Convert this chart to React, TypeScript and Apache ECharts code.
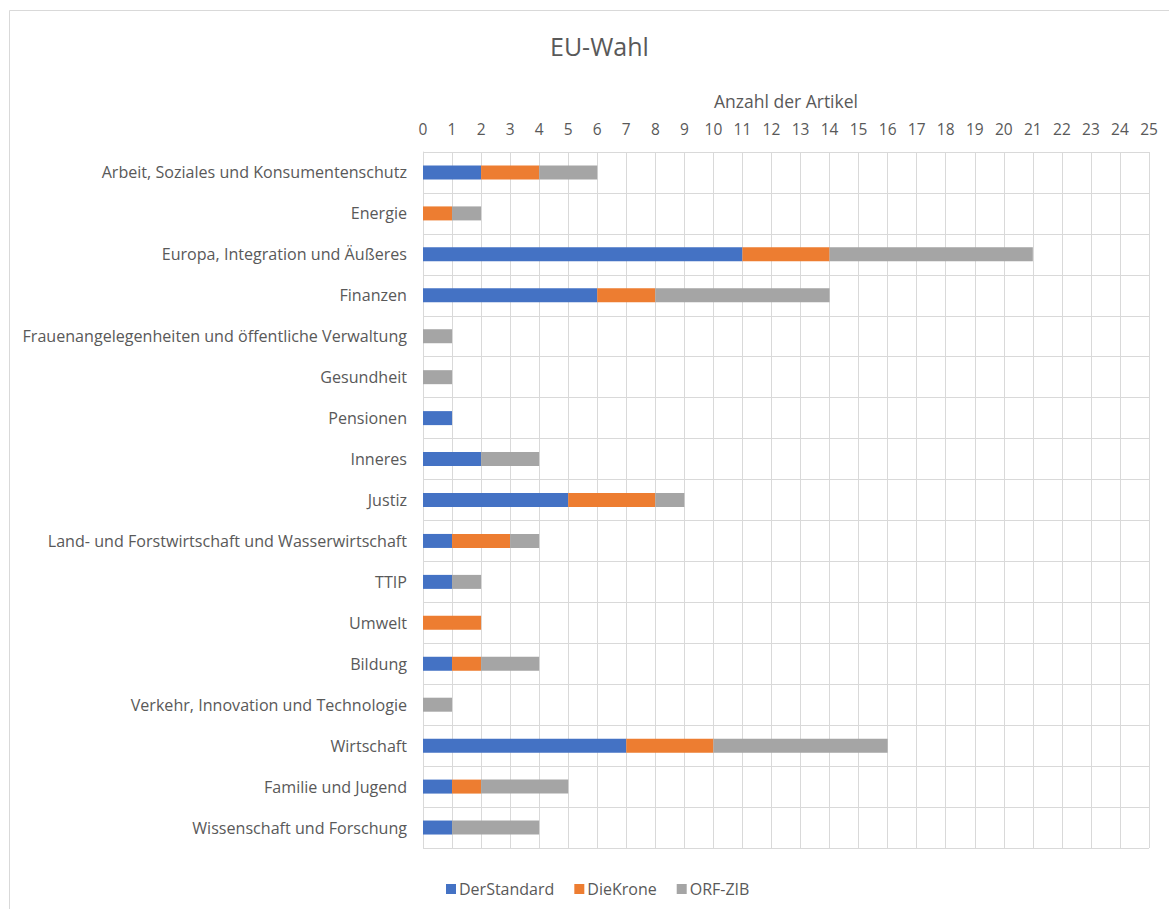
import React, { useEffect, useRef } from "react";
import * as echarts from "echarts";

const categories = [
  "Arbeit, Soziales und Konsumentenschutz",
  "Energie",
  "Europa, Integration und Äußeres",
  "Finanzen",
  "Frauenangelegenheiten und öffentliche Verwaltung",
  "Gesundheit",
  "Pensionen",
  "Inneres",
  "Justiz",
  "Land- und Forstwirtschaft und Wasserwirtschaft",
  "TTIP",
  "Umwelt",
  "Bildung",
  "Verkehr, Innovation und Technologie",
  "Wirtschaft",
  "Familie und Jugend",
  "Wissenschaft und Forschung",
];
const derStandard = [2, 0, 11, 6, 0, 0, 1, 2, 5, 1, 1, 0, 1, 0, 7, 1, 1];
const dieKrone = [2, 1, 3, 2, 0, 0, 0, 0, 3, 2, 0, 2, 1, 0, 3, 1, 0];
const orfZib = [2, 1, 7, 6, 1, 1, 0, 2, 1, 1, 1, 0, 2, 1, 6, 3, 3];
const seriesNames = ["DerStandard", "DieKrone", "ORF-ZIB"];
const colors = ["#4472C4", "#ED7D31", "#A5A5A5"];

const FONT = "'Open Sans', 'Noto Sans', sans-serif";

export default function App() {
  const ref = useRef<HTMLDivElement>(null);
  useEffect(() => {
    if (!ref.current) return;
    const chart = echarts.init(ref.current, undefined, { renderer: "svg" });
    const data = [derStandard, dieKrone, orfZib];
    chart.setOption({
      animation: false,
      backgroundColor: "#ffffff",
      textStyle: { fontFamily: FONT, color: "#595959" },
      title: {
        text: "EU-Wahl",
        left: 545,
        top: 28,
        textStyle: { fontFamily: FONT, fontSize: 25, fontWeight: "normal", color: "#595959" },
      },
      graphic: [
        {
          type: "rect",
          shape: { x: 9.5, y: 10.5, width: 1200, height: 1000 },
          style: { fill: "none", stroke: "#d9d9d9", lineWidth: 1 },
          silent: true,
        },
      ],
      legend: {
        bottom: 7,
        left: 441,
        itemWidth: 10,
        itemHeight: 10,
        itemGap: 20,
        icon: "rect",
        textStyle: { fontFamily: FONT, fontSize: 16, color: "#595959", padding: [0, 0, 0, -2] },
        data: seriesNames,
      },
      grid: { left: 423, right: 20, top: 152, bottom: 61 },
      xAxis: {
        type: "value",
        position: "top",
        min: 0,
        max: 25,
        interval: 1,
        name: "Anzahl der Artikel",
        nameLocation: "middle",
        nameGap: 42,
        nameTextStyle: { fontFamily: FONT, fontSize: 17.5, color: "#595959" },
        axisLine: { show: false },
        axisTick: { show: false },
        axisLabel: { margin: 15, fontFamily: FONT, fontSize: 15.5, color: "#595959" },
        splitLine: { show: true, lineStyle: { color: "#d9d9d9", width: 1 } },
      },
      yAxis: {
        type: "category",
        inverse: true,
        data: categories,
        axisLine: { show: true, lineStyle: { color: "#d9d9d9" } },
        axisTick: { show: false },
        axisLabel: { margin: 16, fontFamily: FONT, fontSize: 16.1, color: "#595959" },
        splitLine: { show: true, lineStyle: { color: "#d9d9d9", width: 1 } },
      },
      series: seriesNames.map((name, i) => ({
        name,
        type: "bar",
        stack: "total",
        barWidth: 14,
        itemStyle: { color: colors[i] },
        data: data[i],
      })),
    });
    return () => chart.dispose();
  }, []);
  return (
    <div
      ref={ref}
      style={{ position: "fixed", left: 0, top: 0, width: 1169, height: 909 }}
    />
  );
}
